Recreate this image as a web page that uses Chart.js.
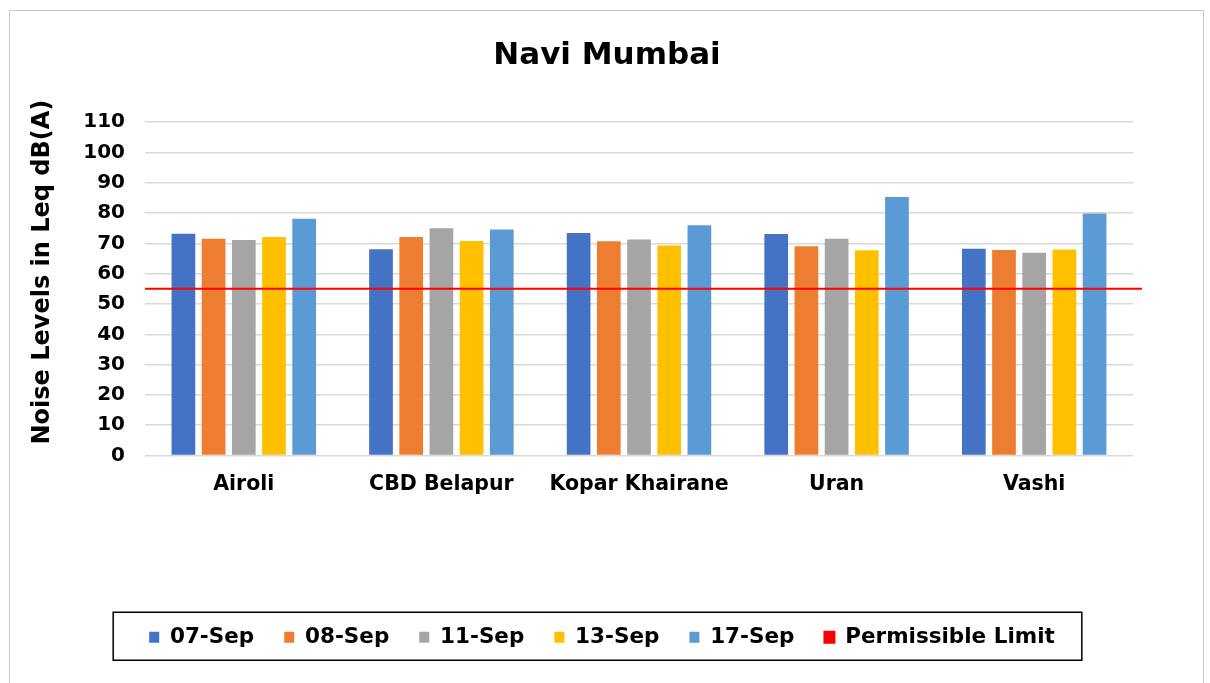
<!DOCTYPE html>
<html>
<head>
<meta charset="utf-8">
<script src="https://cdn.jsdelivr.net/npm/chart.js@4/dist/chart.umd.min.js"></script>
<style>
  html, body { margin: 0; padding: 0; background: #fff; }
  #wrap { position: absolute; left: 0; top: 0; width: 1210px; height: 683px; }
  #frame { position: absolute; left: 9px; top: 10px; width: 1193px; height: 700px; border: 1px solid #c8c8c8; pointer-events: none; }
</style>
</head>
<body>
<div id="wrap"><canvas id="c" width="1210" height="683"></canvas></div>
<div id="frame"></div>
<script>
const categories = ["Airoli", "CBD Belapur", "Kopar Khairane", "Uran", "Vashi"];
const seriesNames = ["07-Sep", "08-Sep", "11-Sep", "13-Sep", "17-Sep"];
const sep07 = [73.2, 68.1, 73.4, 73.1, 68.2];
const sep08 = [71.5, 72.1, 70.7, 69.1, 67.8];
const sep11 = [71.1, 75.0, 71.3, 71.5, 66.9];
const sep13 = [72.1, 70.8, 69.3, 67.7, 68.0];
const sep17 = [78.1, 74.6, 76.0, 85.3, 79.9];
const permissibleLimit = 55;
const limitName = "Permissible Limit";
const yTicks = [0, 10, 20, 30, 40, 50, 60, 70, 80, 90, 100, 110];

const colors = ["#4472C4", "#ED7D31", "#A5A5A5", "#FFC000", "#5B9BD5"];
const seriesValues = [sep07, sep08, sep11, sep13, sep17];
const FONT = "'DejaVu Sans', Verdana, sans-serif";

const barSets = seriesValues.map((vals, i) => ({
  label: seriesNames[i],
  data: vals.map((v, k) => ({ x: k, y: v })),
  backgroundColor: colors[i],
  borderWidth: 0,
  categoryPercentage: 0.764,
  barPercentage: 0.785,
  order: 1
}));

// limit line spans the whole plot width (category slots run from -0.5 to n-0.5)
const lineSet = {
  type: 'line',
  label: limitName,
  data: [{ x: -0.5, y: permissibleLimit }, { x: categories.length - 0.455, y: permissibleLimit }],
  borderColor: '#FF0000',
  backgroundColor: '#FF0000',
  borderWidth: 2,
  pointRadius: 0,
  clip: false,
  order: 0
};

// re-centre title and legend boxes horizontally (layout only)
const boxCentering = {
  id: 'boxCentering',
  afterLayout(chart) {
    const t = chart.titleBlock;
    if (t) { t.left = 4; t.right = 1210; t.width = 1206; }
    const l = chart.legend;
    if (l) { l.left = 0; l.right = 1204; l.width = 1204; }
  }
};

const legendFrame = {
  id: 'legendFrame',
  afterDraw(chart) {
    const lg = chart.legend;
    if (!lg || !lg.legendHitBoxes || !lg.legendHitBoxes.length) return;
    const hb = lg.legendHitBoxes;
    const first = hb[0], last = hb[hb.length - 1];
    const cy = first.top + first.height / 2;
    const ctx = chart.ctx;
    ctx.save();
    ctx.strokeStyle = '#000';
    ctx.lineWidth = 1.5;
    const x0 = first.left - 36;
    const x1 = last.left + last.width + 27;
    ctx.strokeRect(x0, cy - 25, x1 - x0, 48);
    ctx.restore();
  }
};

new Chart(document.getElementById('c'), {
  type: 'bar',
  data: { datasets: [...barSets, lineSet] },
  options: {
    responsive: false,
    animation: false,
    layout: { padding: { left: 14, right: 77, top: 0, bottom: 25 } },
    plugins: {
      title: {
        display: true,
        text: 'Navi Mumbai',
        color: '#000',
        font: { family: FONT, size: 31, weight: 'bold' },
        padding: { top: 37, bottom: 48 }
      },
      legend: {
        position: 'bottom',
        labels: {
          color: '#000',
          font: { family: FONT, size: 21.5, weight: 'bold' },
          boxWidth: 10,
          boxHeight: 11,
          padding: 30,
          sort: (a, b) => a.datasetIndex - b.datasetIndex
        }
      },
      tooltip: { enabled: false }
    },
    scales: {
      x: {
        type: 'linear',
        position: 'bottom',
        min: -0.5,
        max: categories.length - 0.5,
        offset: false,
        afterBuildTicks: (s) => { s.ticks = categories.map((c, k) => ({ value: k })); },
        grid: { display: false, drawTicks: false },
        border: { display: false },
        ticks: {
          color: '#000',
          font: { family: FONT, size: 20.5, weight: 'bold' },
          padding: 17,
          maxRotation: 0,
          autoSkip: false,
          callback: (v) => categories[v]
        },
        afterFit: (s) => { s.height = 141; }
      },
      y: {
        type: 'linear',
        position: 'left',
        min: 0,
        max: 110,
        afterBuildTicks: (s) => { s.ticks = yTicks.map(v => ({ value: v })); },
        grid: { color: '#d9d9d9', lineWidth: 1.5, drawTicks: false },
        border: { display: false },
        ticks: { color: '#000', font: { family: FONT, size: 20, weight: 'bold' }, padding: 20 },
        title: {
          display: true,
          text: '    Noise Levels in Leq dB(A)',
          color: '#000',
          font: { family: FONT, size: 24, weight: 'bold' },
          padding: { top: 14, bottom: 0 }
        },
        afterFit: (s) => { s.width = 131; }
      }
    }
  },
  plugins: [boxCentering, legendFrame]
});
</script>
</body>
</html>
